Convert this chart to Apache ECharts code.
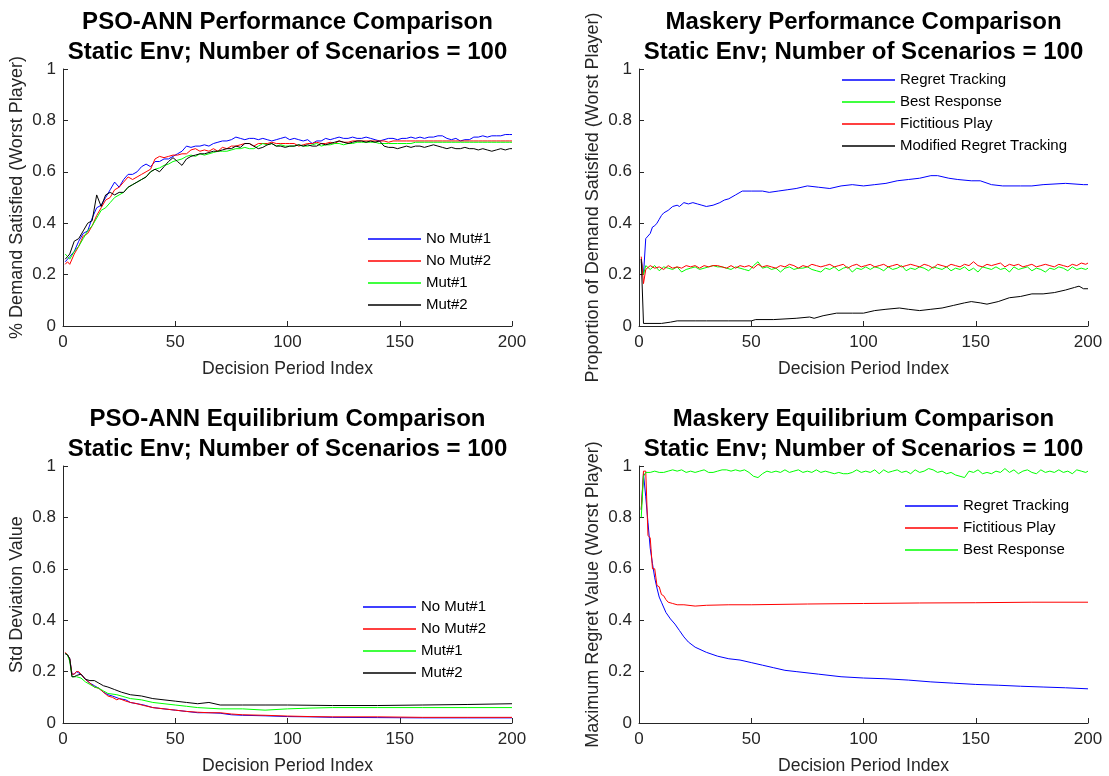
<!DOCTYPE html>
<html>
<head>
<meta charset="utf-8">
<script src="https://cdn.jsdelivr.net/npm/echarts@6/dist/echarts.min.js"></script>
<style>
html,body{margin:0;padding:0;background:#fff;}
#chart{width:1109px;height:776px;}
</style>
</head>
<body>
<div id="chart"></div>
<script>
// ---------- x positions of the noisy series (decision period index) ----------
const periods = [1, 2];
for (let x = 3; x <= 199; x += 2) periods.push(x);
periods.push(200);

const xTicks = [0, 50, 100, 150, 200];
const yTicks = [0, 0.2, 0.4, 0.6, 0.8, 1];

// ---------- Panel 1: PSO-ANN Performance Comparison ----------
const psoPerfNoMut1 = [.25,.26,
 .27,.29,.33,.36,.37,.42,.46,.47,.50,.53,
 .56,.54,.57,.59,.59,.60,.62,.63,.62,.64,
 .64,.65,.65,.66,.67,.68,.70,.695,.70,.70,
 .705,.70,.71,.715,.72,.72,.725,.735,.73,.725,
 .73,.73,.725,.73,.725,.72,.725,.73,.735,.725,
 .73,.725,.72,.725,.71,.72,.72,.73,.725,.73,
 .735,.73,.73,.735,.73,.73,.735,.73,.725,.72,
 .725,.73,.73,.725,.73,.73,.735,.73,.735,.73,
 .735,.735,.74,.74,.73,.725,.73,.72,.725,.725,
 .735,.735,.74,.735,.74,.74,.74,.745,.745,
 .745];
const psoPerfNoMut2 = [.24,.25,
 .24,.28,.31,.35,.36,.39,.43,.46,.49,.50,
 .53,.54,.56,.58,.57,.58,.59,.60,.61,.65,
 .66,.655,.66,.665,.665,.67,.67,.685,.69,.68,
 .685,.68,.69,.68,.695,.69,.70,.70,.705,.71,
 .71,.70,.71,.71,.71,.715,.71,.71,.71,.71,
 .71,.70,.705,.71,.71,.715,.71,.71,.715,.71,
 .72,.715,.715,.72,.72,.72,.72,.72,.72,.72,
 .72,.715,.72,.72,.72,.72,.72,.72,.72,.72,
 .72,.72,.72,.72,.72,.72,.72,.72,.72,.72,
 .72,.72,.72,.72,.72,.72,.72,.72,.72,
 .72];
const psoPerfMut1 = [.28,.27,
 .26,.29,.31,.34,.37,.39,.42,.45,.46,.48,
 .50,.51,.52,.54,.55,.56,.57,.58,.60,.61,
 .615,.625,.63,.64,.645,.65,.66,.665,.66,.67,
 .665,.67,.675,.68,.68,.68,.685,.69,.69,.695,
 .69,.69,.70,.71,.705,.71,.70,.705,.70,.70,
 .70,.705,.70,.70,.705,.71,.70,.705,.705,.71,
 .71,.705,.71,.71,.715,.715,.715,.715,.715,.71,
 .71,.71,.71,.71,.71,.71,.71,.715,.715,.715,
 .715,.715,.715,.715,.715,.715,.715,.715,.715,.715,
 .715,.715,.715,.715,.715,.715,.715,.715,.715,
 .715];
const psoPerfMut2 = [.26,.27,
 .28,.33,.34,.37,.40,.41,.51,.465,.51,.52,
 .51,.52,.52,.54,.55,.56,.57,.58,.60,.61,
 .60,.62,.64,.655,.64,.625,.65,.66,.665,.67,
 .67,.675,.68,.68,.685,.69,.69,.70,.695,.71,
 .71,.70,.69,.695,.705,.71,.70,.70,.695,.70,
 .70,.705,.70,.705,.70,.70,.71,.705,.71,.715,
 .72,.715,.71,.715,.72,.72,.715,.72,.715,.72,
 .70,.695,.695,.69,.695,.70,.695,.70,.70,.695,
 .70,.705,.70,.695,.69,.695,.69,.69,.695,.69,
 .69,.685,.69,.685,.68,.685,.69,.685,.69,
 .69];

// ---------- Panel 2: Maskery Performance Comparison ----------
const maskPerfRegretTracking = [[1,.26],[2,.20],[3,.34],[4,.35],[5,.36],[6,.385],[7,.39],[8,.40],[9,.415],[10,.43],[11,.44],[13,.45],[15,.465],[17,.47],[18,.465],[20,.48],[22,.475],[24,.48],[26,.475],[28,.47],[30,.465],[33,.47],[36,.48],[38,.49],[40,.495],[43,.51],[46,.525],[50,.525],[55,.525],[58,.52],[62,.525],[66,.53],[70,.535],[75,.545],[80,.54],[85,.535],[90,.545],[95,.55],[100,.545],[105,.55],[110,.555],[115,.565],[120,.57],[125,.575],[130,.585],[133,.585],[138,.575],[142,.57],[148,.565],[152,.565],[157,.55],[162,.545],[170,.545],[175,.545],[180,.55],[190,.555],[198,.55],[200,.55]];
const maskPerfBestResponse = [.25,.20,
 .235,.22,.235,.215,.23,.225,.22,.23,.21,.22,
 .225,.23,.22,.225,.23,.235,.23,.23,.225,.22,
 .23,.225,.22,.215,.235,.25,.225,.23,.22,.225,
 .21,.225,.23,.22,.225,.225,.23,.22,.215,.21,
 .225,.22,.23,.215,.225,.23,.21,.225,.22,.23,
 .22,.23,.225,.215,.23,.22,.225,.235,.215,.225,
 .22,.23,.225,.215,.23,.225,.22,.23,.215,.225,
 .22,.23,.215,.225,.21,.23,.225,.22,.23,.22,
 .225,.21,.23,.22,.225,.23,.215,.225,.22,.21,
 .225,.22,.23,.225,.215,.23,.22,.225,.22,
 .225];
const maskPerfFictitiousPlay = [.27,.165,
 .22,.235,.225,.23,.22,.235,.225,.23,.225,.235,
 .23,.235,.225,.235,.23,.235,.235,.23,.225,.235,
 .225,.235,.23,.235,.225,.24,.23,.235,.23,.225,
 .235,.23,.24,.235,.225,.235,.23,.24,.235,.23,
 .235,.24,.23,.235,.24,.225,.235,.24,.23,.235,
 .24,.23,.235,.24,.23,.235,.24,.23,.235,.24,
 .235,.23,.24,.235,.225,.24,.235,.23,.24,.235,
 .23,.24,.235,.25,.235,.23,.24,.235,.24,.245,
 .23,.24,.235,.24,.23,.235,.24,.23,.235,.24,
 .235,.23,.24,.235,.23,.24,.235,.245,.24,
 .245];
const maskPerfModifiedRT = [[1,.26],[2,.01],[10,.01],[14,.015],[17,.02],[25,.02],[30,.02],[40,.02],[50,.02],[52,.025],[60,.025],[70,.03],[76,.035],[78,.03],[82,.04],[88,.05],[95,.05],[100,.05],[105,.06],[110,.065],[116,.07],[120,.065],[125,.06],[130,.065],[135,.07],[140,.08],[145,.09],[148,.095],[152,.09],[155,.085],[160,.095],[165,.11],[170,.115],[175,.125],[180,.125],[185,.13],[190,.14],[194,.15],[196,.155],[198,.145],[200,.145]];

// ---------- Panel 3: PSO-ANN Equilibrium Comparison ----------
const psoEqNoMut1 = [[1,.27],[2,.265],[3,.25],[4,.19],[5,.19],[6,.20],[7,.195],[8,.19],[9,.18],[10,.17],[12,.155],[14,.145],[16,.135],[18,.12],[20,.11],[22,.105],[25,.095],[28,.09],[30,.08],[33,.075],[36,.07],[40,.06],[45,.055],[50,.05],[55,.045],[60,.04],[65,.04],[70,.038],[75,.032],[80,.03],[90,.028],[100,.025],[110,.024],[120,.022],[140,.021],[160,.02],[180,.02],[200,.02]];
const psoEqNoMut2 = [[1,.275],[2,.265],[3,.25],[4,.19],[5,.19],[6,.20],[7,.2],[8,.19],[9,.18],[10,.17],[12,.155],[14,.14],[16,.135],[18,.12],[20,.105],[22,.10],[24,.09],[25,.095],[28,.085],[30,.08],[33,.075],[36,.068],[40,.06],[45,.055],[50,.05],[55,.045],[60,.042],[65,.04],[70,.04],[75,.035],[80,.032],[90,.03],[100,.027],[110,.025],[120,.024],[140,.024],[160,.022],[180,.022],[200,.022]];
const psoEqMut1 = [[1,.27],[2,.265],[3,.24],[4,.18],[5,.18],[6,.18],[8,.175],[10,.16],[12,.15],[14,.14],[16,.135],[18,.125],[20,.115],[24,.11],[28,.10],[30,.095],[35,.09],[40,.08],[45,.075],[50,.07],[55,.065],[60,.06],[70,.055],[80,.055],[90,.05],[100,.055],[110,.058],[120,.06],[140,.06],[160,.06],[180,.06],[200,.06]];
const psoEqMut2 = [[1,.27],[2,.265],[3,.25],[4,.18],[5,.18],[6,.185],[8,.19],[10,.17],[12,.165],[14,.165],[16,.155],[18,.145],[20,.14],[23,.13],[26,.12],[30,.11],[35,.105],[40,.095],[45,.09],[50,.085],[55,.08],[60,.075],[65,.08],[70,.07],[80,.07],[90,.07],[100,.07],[120,.068],[140,.068],[160,.07],[180,.072],[200,.075]];

// ---------- Panel 4: Maskery Equilibrium Comparison ----------
const maskEqRegretTracking = [[1,.83],[2,.97],[3,.88],[4,.78],[5,.68],[6,.62],[7,.565],[8,.525],[9,.49],[10,.47],[12,.43],[14,.405],[16,.385],[18,.36],[20,.335],[22,.315],[25,.295],[30,.275],[35,.26],[40,.25],[45,.245],[50,.235],[55,.225],[60,.215],[65,.205],[70,.20],[80,.19],[90,.18],[100,.175],[110,.172],[120,.167],[130,.16],[140,.155],[150,.15],[160,.147],[170,.143],[180,.14],[190,.137],[200,.133]];
const maskEqFictitiousPlay = [[1,.83],[2,.98],[3,.98],[4,.73],[5,.72],[6,.60],[7,.60],[8,.535],[9,.53],[10,.50],[11,.495],[12,.48],[13,.47],[15,.465],[17,.46],[20,.46],[25,.455],[30,.458],[40,.46],[50,.46],[75,.463],[100,.465],[125,.467],[150,.468],[175,.47],[200,.47]];
const maskEqBestResponse = [.80,.96,
 .975,.975,.98,.975,.975,.98,.985,.98,.985,.975,
 .98,.975,.98,.985,.975,.975,.98,.985,.985,.98,
 .985,.98,.985,.975,.96,.955,.97,.98,.975,.98,
 .975,.985,.975,.98,.985,.975,.98,.975,.985,.975,
 .98,.975,.97,.975,.97,.97,.975,.985,.975,.98,
 .975,.985,.97,.985,.975,.98,.985,.975,.98,.97,
 .985,.975,.98,.99,.985,.975,.98,.97,.975,.965,
 .96,.955,.98,.975,.985,.97,.975,.97,.98,.975,
 .99,.975,.985,.97,.98,.985,.975,.97,.985,.975,
 .98,.975,.985,.975,.98,.97,.985,.98,.975,
 .98];

// ---------- build chart ----------
const BLUE = '#0000ff', RED = '#ff0000', GREEN = '#00ff00', BLACK = '#000000';
const FONT = '"Liberation Sans", Arial, Helvetica, sans-serif';
const AX = '#262626';

function pair(vals) { return vals.map((v, i) => [periods[i], v]); }

const grids = [
  {left: 63, top: 69, width: 449, height: 257},
  {left: 639, top: 69, width: 449, height: 257},
  {left: 63, top: 466, width: 449, height: 257},
  {left: 639, top: 466, width: 449, height: 257}
];
const titles = [
  'PSO-ANN Performance Comparison\nStatic Env; Number of Scenarios = 100',
  'Maskery Performance Comparison\nStatic Env; Number of Scenarios = 100',
  'PSO-ANN Equilibrium Comparison\nStatic Env; Number of Scenarios = 100',
  'Maskery Equilibrium Comparison\nStatic Env; Number of Scenarios = 100'
];
const titleTops = [2, 2, 399, 399];
const yNames = [
  '% Demand Satisfied (Worst Player)',
  'Proportion of Demand Satisfied (Worst Player)',
  'Std Deviation Value',
  'Maximum Regret Value (Worst Player)'
];

const xAxes = grids.map((g, i) => ({
  type: 'value', gridIndex: i, min: xTicks[0], max: xTicks[xTicks.length - 1], interval: xTicks[1] - xTicks[0],
  name: 'Decision Period Index', nameLocation: 'middle', nameGap: 34,
  nameTextStyle: {fontFamily: FONT, fontSize: 17.6, color: AX},
  axisLine: {show: true, onZero: false, lineStyle: {color: AX, width: 1}},
  axisTick: {show: true, inside: true, length: 5, lineStyle: {color: AX}},
  axisLabel: {fontFamily: FONT, fontSize: 17, color: AX, margin: 8},
  splitLine: {show: false}
}));
const yAxes = grids.map((g, i) => ({
  type: 'value', gridIndex: i, min: yTicks[0], max: yTicks[yTicks.length - 1], interval: yTicks[1] - yTicks[0],
  name: yNames[i], nameLocation: 'middle', nameGap: 37, nameRotate: 90,
  nameTextStyle: {fontFamily: FONT, fontSize: 18, color: AX},
  axisLine: {show: true, onZero: false, lineStyle: {color: AX, width: 1}},
  axisTick: {show: true, inside: true, length: 5, lineStyle: {color: AX}},
  axisLabel: {fontFamily: FONT, fontSize: 17, color: AX, margin: 7},
  splitLine: {show: false}
}));

function line(name, data, color, gi) {
  return {
    type: 'line', name: name, data: data, xAxisIndex: gi, yAxisIndex: gi,
    showSymbol: false, symbol: 'none', smooth: false,
    lineStyle: {color: color, width: 1}, itemStyle: {color: color},
    emphasis: {disabled: true}, z: 2
  };
}

const series = [
  line('No Mut#1', pair(psoPerfNoMut1), BLUE, 0),
  line('No Mut#2', pair(psoPerfNoMut2), RED, 0),
  line('Mut#1', pair(psoPerfMut1), GREEN, 0),
  line('Mut#2', pair(psoPerfMut2), BLACK, 0),

  line('Regret Tracking', maskPerfRegretTracking, BLUE, 1),
  line('Best Response', pair(maskPerfBestResponse), GREEN, 1),
  line('Fictitious Play', pair(maskPerfFictitiousPlay), RED, 1),
  line('Modified Regret Tracking', maskPerfModifiedRT, BLACK, 1),

  line('No Mut#1', psoEqNoMut1, BLUE, 2),
  line('No Mut#2', psoEqNoMut2, RED, 2),
  line('Mut#1', psoEqMut1, GREEN, 2),
  line('Mut#2', psoEqMut2, BLACK, 2),

  line('Regret Tracking', maskEqRegretTracking, BLUE, 3),
  line('Fictitious Play', maskEqFictitiousPlay, RED, 3),
  line('Best Response', pair(maskEqBestResponse), GREEN, 3)
];

function legend(names, left, top, gap) {
  return {
    data: names, orient: 'vertical', left: left, top: top,
    icon: 'rect', itemWidth: 53, itemHeight: 1.5, itemGap: gap,
    selectedMode: false,
    textStyle: {fontFamily: FONT, fontSize: 15, color: '#000', lineHeight: 18, padding: [0, 0, 0, 0]},
    padding: 0
  };
}

const option = {
  animation: false,
  backgroundColor: '#ffffff',
  title: grids.map((g, i) => ({
    text: titles[i], left: g.left + g.width / 2 - 5, top: titleTops[i], textAlign: 'center',
    textStyle: {fontFamily: FONT, fontSize: 24, fontWeight: 'bold', color: '#000', lineHeight: 30}
  })),
  grid: grids,
  xAxis: xAxes,
  yAxis: yAxes,
  legend: [
    legend(['No Mut#1', 'No Mut#2', 'Mut#1', 'Mut#2'], 368, 230, 4),
    legend(['Regret Tracking', 'Best Response', 'Fictitious Play', 'Modified Regret Tracking'], 842, 71, 4),
    legend(['No Mut#1', 'No Mut#2', 'Mut#1', 'Mut#2'], 363, 598, 4),
    legend(['Regret Tracking', 'Fictitious Play', 'Best Response'], 905, 497, 4)
  ],
  series: series
};

const chart = echarts.init(document.getElementById('chart'), null, {renderer: 'canvas'});
chart.setOption(option);
</script>
</body>
</html>
